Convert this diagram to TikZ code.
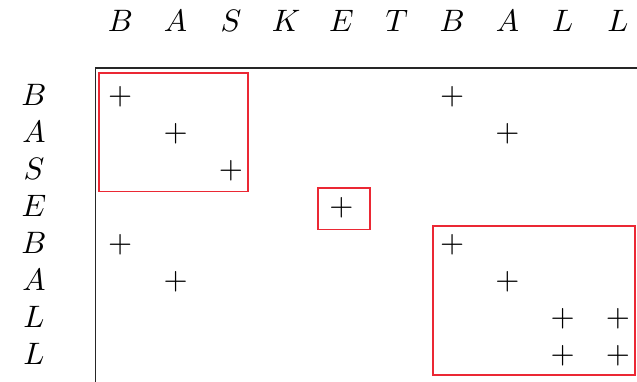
\documentclass[tikz,border=0pt]{standalone}
\usepackage{xcolor}
\definecolor{boxred}{RGB}{235,40,52}
\begin{document}
\begin{tikzpicture}[x=0.3226pt,y=-0.3226pt,
  lbl/.style={inner sep=0pt,anchor=base,font=\normalsize},
  pl/.style={inner sep=0pt,font=\normalsize},
  axis/.style={draw=black!85,line width=0.5pt},
  hl/.style={draw=boxred,line width=0.55pt}]
\useasboundingbox (0,0) rectangle (637,382);
% column labels
\foreach \t [count=\i from 0] in {B,A,S,K,E,T,B,A,L,L}
  \node[lbl] (c\i) at (120.3+55.3*\i,32) {$\t$};
% row labels
\foreach \t [count=\j from 0] in {B,A,S,E,B,A,L,L}
  \node[lbl] (r\j) at (34,97+37*\j+8.5) {$\t$};
% axes
\coordinate (o) at (95.5,68);
\coordinate (xe) at (637,68);
\coordinate (ye) at (95.5,382);
\draw[axis] (ye) -- (o) -- (xe);
% plus marks: (column, row)
\foreach \i/\j in {0/0,1/1,2/2,4/3,6/0,7/1,0/4,1/5,6/4,7/5,8/6,9/6,8/7,9/7}
  \node[pl] (p\i-\j) at (120.3+55.3*\i,97+37*\j) {$+$};
% red boxes
\draw[hl] (99,73) rectangle (248,191.5);
\draw[hl] (318,188) rectangle (370,229.5);
\draw[hl] (433.3,226) rectangle (635,374.7);
\end{tikzpicture}
\end{document}
